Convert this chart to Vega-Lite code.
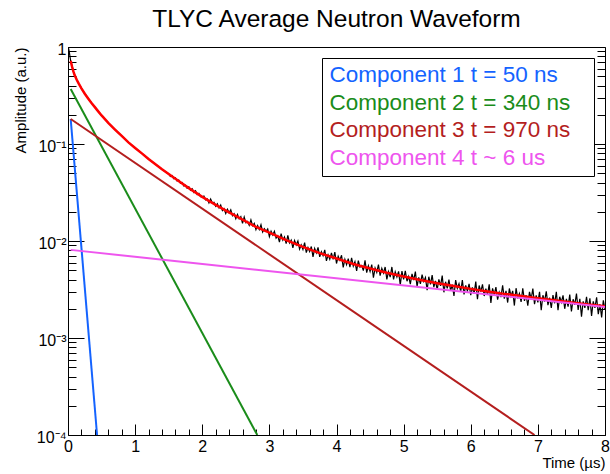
{
"$schema":"https://vega.github.io/schema/vega-lite/v6.json",
"width":537,"height":388,
"autosize":{"type":"none"},
"padding":{"left":68,"top":47,"right":5,"bottom":39},
"background":"white",
"config":{"view":{"stroke":"black","strokeWidth":1},"font":"Liberation Sans","axis":{"zindex":1,"labelOverlap":false,"grid":false,"domain":false,"tickColor":"black","tickWidth":1,"labelColor":"black","labelFont":"Liberation Sans","labelFlush":false,"labelBound":false},
"axisX":{"labelFontSize":16,"labelPadding":14,"titleFont":"Liberation Sans","titleFontSize":15,"titleFontWeight":"normal","titleColor":"black","titleAnchor":"end","titlePadding":-4}},
"title":{"text":"TLYC Average Neutron Waveform","fontSize":24.5,"font":"Liberation Sans","fontWeight":"normal","color":"black","offset":9,"anchor":"middle"},
"datasets":{
"fit":[{"t":0.04,"a":0.72},{"t":0.06,"a":0.63},{"t":0.08,"a":0.56},{"t":0.1,"a":0.51},{"t":0.13,"a":0.46},{"t":0.16,"a":0.42},{"t":0.2,"a":0.375},{"t":0.25,"a":0.33},{"t":0.3,"a":0.295},{"t":0.35,"a":0.265},{"t":0.4,"a":0.24},{"t":0.45,"a":0.217},{"t":0.5,"a":0.197},{"t":0.6,"a":0.165},{"t":0.7,"a":0.141},{"t":0.8,"a":0.121},{"t":0.9,"a":0.104},{"t":1.0,"a":0.091},{"t":1.1,"a":0.08},{"t":1.2,"a":0.07},{"t":1.4,"a":0.0548},{"t":1.6,"a":0.0438},{"t":1.8,"a":0.0351},{"t":2.0,"a":0.0285},{"t":2.2,"a":0.0236},{"t":2.4,"a":0.0197},{"t":2.6,"a":0.0166},{"t":2.8,"a":0.014},{"t":3.0,"a":0.0122},{"t":3.25,"a":0.0102},{"t":3.5,"a":0.0087},{"t":3.75,"a":0.0075},{"t":4.0,"a":0.0066},{"t":4.25,"a":0.0058},{"t":4.5,"a":0.0052},{"t":4.75,"a":0.0047},{"t":5.0,"a":0.0043},{"t":5.25,"a":0.00396},{"t":5.5,"a":0.00367},{"t":5.75,"a":0.00343},{"t":6.0,"a":0.00321},{"t":6.25,"a":0.00302},{"t":6.5,"a":0.00285},{"t":6.75,"a":0.00271},{"t":7.0,"a":0.00257},{"t":7.25,"a":0.00245},{"t":7.5,"a":0.00233},{"t":7.75,"a":0.00221},{"t":8.0,"a":0.00212}],
"wave":[{"t":0,"a":1.0},{"t":0.01,"a":0.96},{"t":0.02,"a":0.88},{"t":0.03,"a":0.79},{"t":0.04,"a":0.72},{"t":0.06,"a":0.63},{"t":0.08,"a":0.56},{"t":0.1,"a":0.51},{"t":0.13,"a":0.46},{"t":0.16,"a":0.42},{"t":0.2,"a":0.375},{"t":0.25,"a":0.33},{"t":0.3,"a":0.295},{"t":0.35,"a":0.265},{"t":0.4,"a":0.24},{"t":0.45,"a":0.217},{"t":0.5,"a":0.197},{"t":0.6,"a":0.165},{"t":0.7,"a":0.141},{"t":0.8,"a":0.121},{"t":0.9,"a":0.104},{"t":1.0,"a":0.091},{"t":1.1,"a":0.08},{"t":1.2,"a":0.07},{"t":1.4,"a":0.0548},
{"t":1.5,"a":0.0491},{"t":1.525,"a":0.0463},{"t":1.55,"a":0.0472},{"t":1.575,"a":0.0439},{"t":1.6,"a":0.0449},{"t":1.625,"a":0.0417},{"t":1.65,"a":0.0425},{"t":1.675,"a":0.0394},{"t":1.7,"a":0.0401},{"t":1.725,"a":0.037},{"t":1.75,"a":0.0376},{"t":1.775,"a":0.035},{"t":1.8,"a":0.0362},{"t":1.825,"a":0.0333},{"t":1.85,"a":0.0345},{"t":1.875,"a":0.0317},{"t":1.9,"a":0.0329},{"t":1.925,"a":0.0301},{"t":1.95,"a":0.031},{"t":1.975,"a":0.0286},
{"t":2.0,"a":0.0285},{"t":2.025,"a":0.0291},{"t":2.05,"a":0.0265},{"t":2.075,"a":0.0272},{"t":2.1,"a":0.0247},{"t":2.125,"a":0.0271},{"t":2.15,"a":0.0246},{"t":2.175,"a":0.0251},{"t":2.2,"a":0.0228},{"t":2.225,"a":0.0242},
{"t":2.25,"a":0.0219},{"t":2.275,"a":0.0235},{"t":2.3,"a":0.0206},{"t":2.325,"a":0.0215},{"t":2.35,"a":0.0192},{"t":2.375,"a":0.0212},{"t":2.4,"a":0.0195},{"t":2.425,"a":0.021},{"t":2.45,"a":0.0182},{"t":2.475,"a":0.0191},
{"t":2.5,"a":0.017},{"t":2.525,"a":0.0188},{"t":2.55,"a":0.0169},{"t":2.575,"a":0.0178},{"t":2.6,"a":0.0152},{"t":2.625,"a":0.0177},{"t":2.65,"a":0.0154},{"t":2.675,"a":0.0159},{"t":2.7,"a":0.0145},{"t":2.725,"a":0.0165},
{"t":2.75,"a":0.0144},{"t":2.775,"a":0.0152},{"t":2.8,"a":0.0131},{"t":2.825,"a":0.0144},{"t":2.85,"a":0.0131},{"t":2.875,"a":0.0147},{"t":2.9,"a":0.0124},{"t":2.925,"a":0.0134},{"t":2.95,"a":0.0126},{"t":2.975,"a":0.0133},
{"t":3.0,"a":0.0111},{"t":3.025,"a":0.0126},{"t":3.05,"a":0.0115},{"t":3.075,"a":0.0126},{"t":3.1,"a":0.0107},{"t":3.125,"a":0.0113},{"t":3.15,"a":0.00973},{"t":3.175,"a":0.0119},{"t":3.2,"a":0.0102},{"t":3.225,"a":0.011},
{"t":3.25,"a":0.0094},{"t":3.275,"a":0.0114},{"t":3.3,"a":0.00954},{"t":3.325,"a":0.0102},{"t":3.35,"a":0.00851},{"t":3.375,"a":0.0101},{"t":3.4,"a":0.00913},{"t":3.425,"a":0.01},{"t":3.45,"a":0.00824},{"t":3.475,"a":0.00912},
{"t":3.5,"a":0.00819},{"t":3.525,"a":0.00964},{"t":3.55,"a":0.00758},{"t":3.575,"a":0.00856},{"t":3.6,"a":0.00779},{"t":3.625,"a":0.00878},{"t":3.65,"a":0.00684},{"t":3.675,"a":0.00837},{"t":3.7,"a":0.00754},{"t":3.725,"a":0.00861},
{"t":3.75,"a":0.00687},{"t":3.775,"a":0.00777},{"t":3.8,"a":0.00706},{"t":3.825,"a":0.00809},{"t":3.85,"a":0.00624},{"t":3.875,"a":0.0072},{"t":3.9,"a":0.00647},{"t":3.925,"a":0.00754},{"t":3.95,"a":0.00645},{"t":3.975,"a":0.00767},
{"t":4.0,"a":0.00586},{"t":4.025,"a":0.00696},{"t":4.05,"a":0.00634},{"t":4.075,"a":0.00712},{"t":4.1,"a":0.00534},{"t":4.125,"a":0.00648},{"t":4.15,"a":0.00571},{"t":4.175,"a":0.00658},{"t":4.2,"a":0.00538},{"t":4.225,"a":0.00672},
{"t":4.25,"a":0.00552},{"t":4.275,"a":0.00611},{"t":4.3,"a":0.00491},{"t":4.325,"a":0.00629},{"t":4.35,"a":0.00538},{"t":4.375,"a":0.00559},{"t":4.4,"a":0.00496},{"t":4.425,"a":0.00633},{"t":4.45,"a":0.00472},{"t":4.475,"a":0.00555},
{"t":4.5,"a":0.00485},{"t":4.525,"a":0.00572},{"t":4.55,"a":0.00419},{"t":4.575,"a":0.00526},{"t":4.6,"a":0.00475},{"t":4.625,"a":0.00571},{"t":4.65,"a":0.0044},{"t":4.675,"a":0.00522},{"t":4.7,"a":0.00468},{"t":4.725,"a":0.0054},
{"t":4.75,"a":0.00402},{"t":4.775,"a":0.00483},{"t":4.8,"a":0.00425},{"t":4.825,"a":0.0054},{"t":4.85,"a":0.00401},{"t":4.875,"a":0.00482},{"t":4.9,"a":0.00426},{"t":4.925,"a":0.00486},{"t":4.95,"a":0.00351},{"t":4.975,"a":0.00489},
{"t":5.0,"a":0.00403},{"t":5.025,"a":0.00492},{"t":5.05,"a":0.00385},{"t":5.075,"a":0.00431},{"t":5.1,"a":0.0036},{"t":5.125,"a":0.00458},{"t":5.15,"a":0.00395},{"t":5.175,"a":0.00483},{"t":5.2,"a":0.00338},{"t":5.225,"a":0.00421},
{"t":5.25,"a":0.00362},{"t":5.275,"a":0.00449},{"t":5.3,"a":0.00383},{"t":5.325,"a":0.0042},{"t":5.35,"a":0.00311},{"t":5.375,"a":0.00428},{"t":5.4,"a":0.00357},{"t":5.425,"a":0.00444},{"t":5.45,"a":0.00334},{"t":5.475,"a":0.00388},
{"t":5.5,"a":0.00316},{"t":5.525,"a":0.00402},{"t":5.55,"a":0.00344},{"t":5.575,"a":0.00439},{"t":5.6,"a":0.00296},{"t":5.625,"a":0.0038},{"t":5.65,"a":0.00325},{"t":5.675,"a":0.00399},{"t":5.7,"a":0.00306},{"t":5.725,"a":0.00355},
{"t":5.75,"a":0.00271},{"t":5.775,"a":0.00396},{"t":5.8,"a":0.00325},{"t":5.825,"a":0.00363},{"t":5.85,"a":0.00301},{"t":5.875,"a":0.00395},{"t":5.9,"a":0.00281},{"t":5.925,"a":0.00348},{"t":5.95,"a":0.00306},{"t":5.975,"a":0.00362},
{"t":6.0,"a":0.00277},{"t":6.025,"a":0.00332},{"t":6.05,"a":0.00287},{"t":6.075,"a":0.00381},{"t":6.1,"a":0.00251},{"t":6.125,"a":0.00348},{"t":6.15,"a":0.003},{"t":6.175,"a":0.00357},{"t":6.2,"a":0.00271},{"t":6.225,"a":0.00323},
{"t":6.25,"a":0.0028},{"t":6.275,"a":0.00357},{"t":6.3,"a":0.0023},{"t":6.325,"a":0.00325},{"t":6.35,"a":0.0028},{"t":6.375,"a":0.00334},{"t":6.4,"a":0.00249},{"t":6.425,"a":0.00296},{"t":6.45,"a":0.00264},{"t":6.475,"a":0.0035},
{"t":6.5,"a":0.00254},{"t":6.525,"a":0.00306},{"t":6.55,"a":0.00232},{"t":6.575,"a":0.00324},{"t":6.6,"a":0.0027},{"t":6.625,"a":0.00306},{"t":6.65,"a":0.00216},{"t":6.675,"a":0.00326},{"t":6.7,"a":0.00256},{"t":6.725,"a":0.00287},
{"t":6.75,"a":0.00235},{"t":6.775,"a":0.00326},{"t":6.8,"a":0.00241},{"t":6.825,"a":0.00276},{"t":6.85,"a":0.00215},{"t":6.875,"a":0.00299},{"t":6.9,"a":0.00251},{"t":6.925,"a":0.00324},{"t":6.95,"a":0.00223},{"t":6.975,"a":0.00275},
{"t":7.0,"a":0.00233},{"t":7.025,"a":0.003},{"t":7.05,"a":0.00193},{"t":7.075,"a":0.00276},{"t":7.1,"a":0.00238},{"t":7.125,"a":0.00303},{"t":7.15,"a":0.00218},{"t":7.175,"a":0.0026},{"t":7.2,"a":0.00204},{"t":7.225,"a":0.00277},
{"t":7.25,"a":0.00228},{"t":7.275,"a":0.003},{"t":7.3,"a":0.00193},{"t":7.325,"a":0.00266},{"t":7.35,"a":0.00234},{"t":7.375,"a":0.00275},{"t":7.4,"a":0.002},{"t":7.425,"a":0.00253},{"t":7.45,"a":0.00211},{"t":7.475,"a":0.0028},
{"t":7.5,"a":0.00188},{"t":7.525,"a":0.00251},{"t":7.55,"a":0.0022},{"t":7.575,"a":0.00287},{"t":7.6,"a":0.00195},{"t":7.625,"a":0.00254},{"t":7.65,"a":0.00166},{"t":7.675,"a":0.00239},{"t":7.7,"a":0.00204},{"t":7.725,"a":0.00265},
{"t":7.75,"a":0.00194},{"t":7.775,"a":0.00257},{"t":7.8,"a":0.00169},{"t":7.825,"a":0.00239},{"t":7.85,"a":0.00204},{"t":7.875,"a":0.00263},{"t":7.9,"a":0.00176},{"t":7.925,"a":0.00223},{"t":7.95,"a":0.00163},{"t":7.975,"a":0.00244},{"t":8.0,"a":0.00197}],
"comp":[{"c":"Component 1 t = 50 ns","t":0.04,"a":0.181},{"c":"Component 1 t = 50 ns","t":0.433,"a":0.0001},
{"c":"Component 2 t = 340 ns","t":0.04,"a":0.369},{"c":"Component 2 t = 340 ns","t":2.82,"a":0.0001},
{"c":"Component 3 t = 970 ns","t":0.04,"a":0.181},{"c":"Component 3 t = 970 ns","t":6.95,"a":0.0001},
{"c":"Component 4 t ~ 6 us","t":0.04,"a":0.0081},{"c":"Component 4 t ~ 6 us","t":8.0,"a":0.00209}]
},
"layer":[
{"data":{"name":"wave"},"mark":{"type":"line","color":"black","strokeWidth":1.2,"clip":true},
"encoding":{
"x":{"field":"t","type":"quantitative","scale":{"domain":[0,8],"nice":false,"zero":false},
"axis":{"values":[0,0.2,0.4,0.6,0.8,1,1.2,1.4,1.6,1.8,2,2.2,2.4,2.6,2.8,3,3.2,3.4,3.6,3.8,4,4.2,4.4,4.6,4.8,5,5.2,5.4,5.6,5.8,6,6.2,6.4,6.6,6.8,7,7.2,7.4,7.6,7.8,8],
"labelExpr":"datum.value == round(datum.value) ? '' + datum.value : ''",
"tickSize":{"condition":{"test":"datum.value == round(datum.value)","value":-11},"value":-6},
"title":"Time (µs)"}},
"y":{"field":"a","type":"quantitative","scale":{"type":"log","domain":[0.0001,1],"nice":false},
"axis":{"values":[0.0001,0.0002,0.0003,0.0004,0.0005,0.0006,0.0007,0.0008,0.0009,0.001,0.002,0.003,0.004,0.005,0.006,0.007,0.008,0.009,0.01,0.02,0.03,0.04,0.05,0.06,0.07,0.08,0.09,0.1,0.2,0.3,0.4,0.5,0.6,0.7,0.8,0.9,1],
"labelExpr":"datum.value == 1 ? '1' : datum.value == 0.1 ? '10⁻¹' : datum.value == 0.01 ? '10⁻²' : datum.value == 0.001 ? '10⁻³' : datum.value == 0.0001 ? '10⁻⁴' : ''",
"tickSize":{"condition":{"test":"datum.value == 1 || datum.value == 0.1 || datum.value == 0.01 || datum.value == 0.001 || datum.value == 0.0001","value":-16},"value":-8},
"labelFontSize":16,"labelPadding":18,"labelOffset":2,
"title":"Amplitude (a.u.)","titleFont":"Liberation Sans","titleFontSize":15,"titleFontWeight":"normal","titleColor":"black","titleAnchor":"end","titlePadding":8}}}},
{"data":{"name":"fit"},"mark":{"type":"line","color":"#ff0000","strokeWidth":2.5,"clip":true},
"encoding":{
"x":{"field":"t","type":"quantitative","scale":{"domain":[0,8],"nice":false,"zero":false},
"axis":{"values":[0,0.2,0.4,0.6,0.8,1,1.2,1.4,1.6,1.8,2,2.2,2.4,2.6,2.8,3,3.2,3.4,3.6,3.8,4,4.2,4.4,4.6,4.8,5,5.2,5.4,5.6,5.8,6,6.2,6.4,6.6,6.8,7,7.2,7.4,7.6,7.8,8],
"labelExpr":"datum.value == round(datum.value) ? '' + datum.value : ''",
"tickSize":{"condition":{"test":"datum.value == round(datum.value)","value":-11},"value":-6},
"title":"Time (µs)"}},
"y":{"field":"a","type":"quantitative","scale":{"type":"log","domain":[0.0001,1],"nice":false},
"axis":{"orient":"right","values":[0.0001,0.0002,0.0003,0.0004,0.0005,0.0006,0.0007,0.0008,0.0009,0.001,0.002,0.003,0.004,0.005,0.006,0.007,0.008,0.009,0.01,0.02,0.03,0.04,0.05,0.06,0.07,0.08,0.09,0.1,0.2,0.3,0.4,0.5,0.6,0.7,0.8,0.9,1],
"labels":false,"title":null,
"tickSize":{"condition":{"test":"datum.value == 1 || datum.value == 0.1 || datum.value == 0.01 || datum.value == 0.001 || datum.value == 0.0001","value":-16},"value":-8}}}}},
{"data":{"name":"comp"},"mark":{"type":"line","strokeWidth":2,"clip":true},
"encoding":{
"x":{"field":"t","type":"quantitative","scale":{"domain":[0,8],"nice":false,"zero":false},
"axis":{"values":[0,0.2,0.4,0.6,0.8,1,1.2,1.4,1.6,1.8,2,2.2,2.4,2.6,2.8,3,3.2,3.4,3.6,3.8,4,4.2,4.4,4.6,4.8,5,5.2,5.4,5.6,5.8,6,6.2,6.4,6.6,6.8,7,7.2,7.4,7.6,7.8,8],
"labelExpr":"datum.value == round(datum.value) ? '' + datum.value : ''",
"tickSize":{"condition":{"test":"datum.value == round(datum.value)","value":-11},"value":-6},
"title":"Time (µs)"}},
"y":{"field":"a","type":"quantitative","scale":{"type":"log","domain":[0.0001,1],"nice":false},"axis":null},
"color":{"field":"c","type":"nominal",
"scale":{"domain":["Component 1 t = 50 ns","Component 2 t = 340 ns","Component 3 t = 970 ns","Component 4 t ~ 6 us"],"range":["#1463ff","#1a8c1a","#b41e1e","#ee55ee"]},
"legend":{"title":null,"orient":"none","legendX":254,"legendY":11,"direction":"vertical","symbolSize":0,"symbolStrokeWidth":0,"symbolOpacity":0,"labelOffset":-21,"labelFontSize":22.5,"labelFont":"Liberation Sans","labelLimit":600,"rowPadding":4.5,"padding":6,"strokeColor":"black","fillColor":"white",
"labelExpr":"datum.label + '\u2800'",
"encode":{"labels":{"update":{"fill":{"scale":"color","field":"value"}}}}}}}}
],
"resolve":{"axis":{"y":"independent"}}
}
